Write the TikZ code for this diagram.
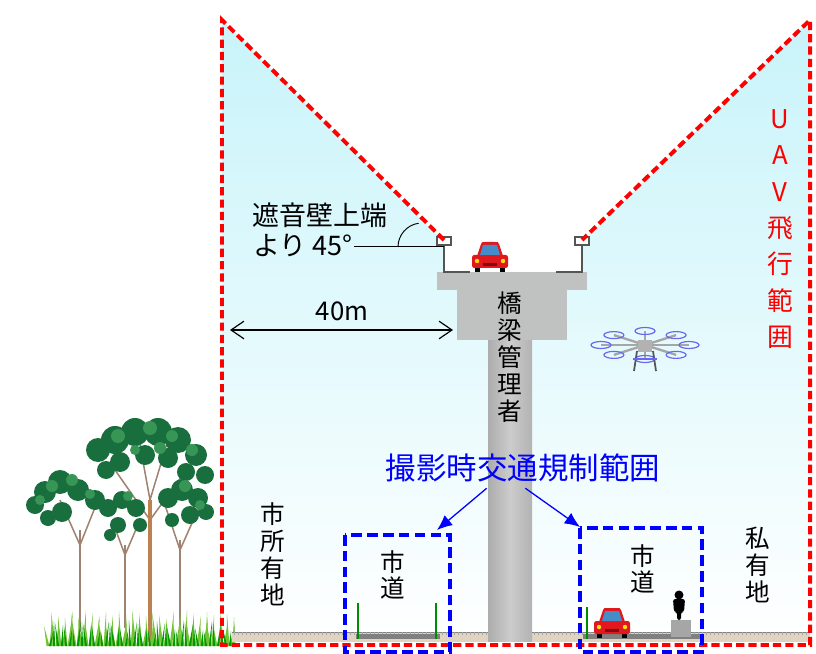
\documentclass[tikz,border=0pt]{standalone}
\usepackage{fontspec}
\setmainfont{Noto Sans CJK JP}
\usetikzlibrary{positioning,arrows.meta}

\definecolor{sky}{RGB}{200,244,250}
\definecolor{pier}{RGB}{192,194,194}
\definecolor{rail}{RGB}{85,85,85}
\definecolor{carred}{RGB}{225,25,30}
\definecolor{glass}{RGB}{70,140,200}
\definecolor{leaf}{RGB}{55,150,85}
\definecolor{leafdark}{RGB}{25,110,62}
\definecolor{bark}{RGB}{160,130,112}
\definecolor{grass}{RGB}{115,195,55}
\definecolor{ground}{RGB}{224,212,192}
\definecolor{propblue}{RGB}{105,105,240}

\tikzset{
  jtext/.style={font=\fontsize{21}{23}\selectfont, align=center, inner sep=1pt},
  uavtext/.style={jtext, text=red, font=\fontsize{22}{31}\selectfont},
  regtext/.style={font=\fontsize{26}{30}\selectfont, text=blue, inner sep=1pt},
  flyzone/.style={draw=red, line width=3.4pt, dash pattern=on 7pt off 3.5pt},
  roadzone/.style={draw=blue, line width=3pt, dash pattern=on 9pt off 4.5pt},
  regarrow/.style={blue, line width=1.1pt, -{Latex[length=13pt,width=11pt]}},
  dimarrow/.style={line width=1pt, {Straight Barb[length=11pt,width=15pt]}-{Straight Barb[length=11pt,width=15pt]}},
  post/.style={green!55!black, line width=1.8pt},
  car/.pic={
    \fill[black] (-15,0) rectangle (-10,-5);
    \fill[black] (10,0) rectangle (15,-5);
    \fill[carred] (-13,-16) -- (-9,-28) .. controls (-8,-30) .. (-5,-30)
      -- (5,-30) .. controls (8,-30) .. (9,-28) -- (13,-16) -- cycle;
    \fill[carred, rounded corners=2pt] (-18,-4) rectangle (18,-17);
    \fill[glass] (-10,-17) -- (-7,-27) -- (7,-27) -- (10,-17) -- cycle;
    \fill[yellow!85!orange] (-13,-11) circle[radius=2.2];
    \fill[yellow!85!orange] (13,-11) circle[radius=2.2];
    \fill[carred!55!black] (-7,-9) rectangle (7,-6);
  },
  person/.pic={
    \fill[black] (0,-25) circle[radius=4.5];
    \fill[black, rounded corners=2pt] (-6,-21) -- (6,-21) -- (5,-8) -- (2,-8)
      -- (2,0) -- (-2,0) -- (-2,-8) -- (-5,-8) -- cycle;
  },
  drone/.pic={
    \foreach \a in {0,45,...,315}
      \draw[gray!70, line width=2pt] (0,0) -- ({44*cos(\a)},{14*sin(\a)});
    \foreach \a in {0,45,...,315}
      \draw[propblue, line width=1pt] ({44*cos(\a)},{14*sin(\a)}) ellipse[x radius=10, y radius=3.5];
    \fill[gray!60] (-7,-5) rectangle (7,7);
    \draw[rail, line width=1.5pt] (-8,6) -- (-11,26) (8,6) -- (11,26);
    \draw[propblue, line width=1pt] (-12,14) -- (12,14);
  }
}

\begin{document}
\begin{tikzpicture}[x=0.03cm, y=-0.03cm]
  \useasboundingbox (0,0) rectangle (816,654);

  % airspace under the 45 degree lines
  \shade[top color=sky, bottom color=white]
    (222,20) -- (444,242) -- (444,272) -- (582,272) -- (582,242) -- (810,20)
    -- (810,645) -- (222,645) -- cycle;

  % trees
  \draw[bark, line width=2.5pt] (80,632) -- (80,530) (125,628) -- (125,545) (180,630) -- (180,540);
  \draw[bark, line width=1.3pt] (80,545) -- (60,500) (80,545) -- (100,495)
    (125,555) -- (112,520) (125,555) -- (140,520)
    (180,550) -- (165,505) (180,550) -- (200,505);
  \draw[bark, line width=1.3pt] (150,520) -- (115,470) (150,520) -- (190,465)
    (150,500) -- (140,445) (150,500) -- (168,440);
  \foreach \x/\y/\r in {35/505/9,45/492/11,60/482/12,78/490/11,95/500/10,62/512/10,48/518/8,
      108/508/9,122/500/9,136/508/9,118/525/8,140/525/7,110/535/6,
      168/498/10,182/490/11,198/498/10,206/512/8,190/515/9,172/520/7,
      98/450/12,115/440/14,135/432/14,158/432/14,178/440/13,196/455/11,205/475/9,
      120/462/10,145/455/10,168/458/10,186/472/9,106/470/9}
    \fill[leafdark] (\x,\y) circle[radius=\r];
  \foreach \x/\y/\r in {52/486/6,72/480/6,90/494/5,118/436/7,150/428/7,172/436/6,192/450/6,
      185/486/6,128/496/5,160/448/6,135/450/5,40/500/5,200/505/5}
    \fill[leaf] (\x,\y) circle[radius=\r];
  \draw[bark!70!orange, line width=4pt] (150,642) -- (150,500);

  % grass
  \foreach \i in {0,...,62} {
    \pgfmathsetmacro\gx{48+3*\i}
    \pgfmathsetmacro\gh{20+mod(\i*7,17)}
    \pgfmathsetmacro\gl{mod(\i*5,9)-4}
    \fill[grass] (\gx-1.5,646) -- (\gx+\gl,646-\gh) -- (\gx+1.5,646) -- cycle;
  }
  \foreach \i in {0,...,45} {
    \pgfmathsetmacro\gx{50+4*\i}
    \pgfmathsetmacro\gh{14+mod(\i*11,13)}
    \pgfmathsetmacro\gl{3-mod(\i*3,7)}
    \fill[green!60!black] (\gx-1.2,646) -- (\gx+\gl,646-\gh) -- (\gx+1.2,646) -- cycle;
  }

  % ground and roads
  \fill[ground] (232,632) rectangle (810,642);
  \draw[gray] (232,632) -- (810,632);
  \foreach \x in {234,238,...,806}
    \draw[gray!70] (\x,632) -- (\x,635);
  \fill[gray] (356,634) rectangle (440,639);
  \fill[gray] (583,634) rectangle (700,639);
  \draw[post] (358,603) -- (358,639) (436,603) -- (436,639) (587,607) -- (587,639);

  % viaduct
  \fill[pier] (437,272) rectangle (587,290);
  \fill[pier] (457,290) rectangle (567,340);
  \shade[left color=gray!65, right color=gray!60, middle color=gray!40] (488,340) rectangle (532,641);
  \draw[rail, line width=2.5pt] (444,244) -- (444,272) -- (470,272);
  \draw[rail, line width=2.5pt] (582,244) -- (582,272) -- (556,272);
  \filldraw[fill=white, draw=rail, line width=1pt] (437,237) rectangle (451,245);
  \filldraw[fill=white, draw=rail, line width=1pt] (575,237) rectangle (589,245);
  \coordinate (capL) at (444,240);
  \coordinate (capR) at (582,240);
  \pic at (490,272) {car};

  \pic at (645,345) {drone};

  % city road, right side
  \pic at (612,638) {car};
  \fill[gray!70] (671,620) rectangle (691,637);
  \pic at (679,620) {person};

  % UAV flight range
  \draw[flyzone] (capL) -- (222,20) -- (222,645) -- (810,645) -- (810,20) -- (capR);

  % road closure areas
  \draw[roadzone] (345,535) rectangle (450,652);
  \draw[roadzone] (580,528) rectangle (702,652);
  \coordinate (tipL) at (437,530);
  \coordinate (tipR) at (580,527);

  % labels
  \node[jtext, font=\fontsize{23}{25}\selectfont, anchor=east] (wall) at (389,215) {遮音壁上端};
  \node[jtext, font=\fontsize{23}{25}\selectfont, anchor=west] (deg) at (252,246) {より 45°};
  \draw[line width=0.8pt] (deg.east) -- (capL |- deg.east);
  \draw[line width=0.8pt] (398,247) arc[start angle=180, end angle=262, radius=24];

  \coordinate (dimL) at (230,330);
  \coordinate (dimR) at (453,330);
  \draw[dimarrow] (dimL) -- (dimR);
  \node[jtext, font=\fontsize{22}{24}\selectfont] (dist) at (342,311) {40m};

  \node[jtext] (owner) at (510,357) {橋\\梁\\管\\理\\者};
  \node[uavtext] (uav) at (780,229) {U\\A\\V\\飛\\行\\範\\囲};

  \node[regtext] (reg) at (523,468) {撮影時交通規制範囲};
  \draw[regarrow] ([xshift=-31pt, yshift=-4pt]reg.south) -- (tipL);
  \draw[regarrow] ([xshift=2pt, yshift=-4pt]reg.south) -- (tipR);

  \node[jtext] (cityland) at (273,554) {市\\所\\有\\地};
  \node[jtext] (private) at (758,565) {私\\有\\地};
  \node[jtext] (roadL) at (393,575) {市\\道};
  \node[jtext] (roadR) at (643,569) {市\\道};
\end{tikzpicture}
\end{document}
